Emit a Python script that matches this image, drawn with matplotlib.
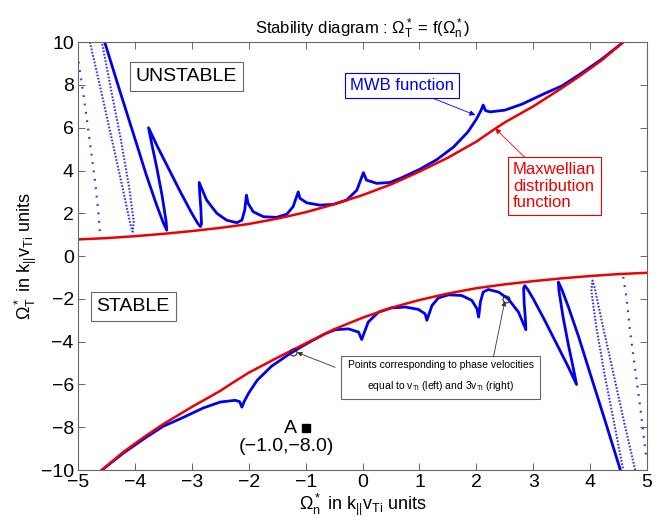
import matplotlib
matplotlib.use("Agg")
import matplotlib.pyplot as plt

# ---------------- data ----------------
# Maxwellian marginal-stability curve, upper (unstable side) branch
max_up_x = [-5.0, -4.5, -4.0, -3.5, -3.0, -2.5, -2.0, -1.5, -1.0, -0.5, 0.0, 0.5, 1.0, 1.5, 2.0, 2.3, 2.5, 3.0, 3.5, 3.82, 4.2, 4.58]
max_up_y = [0.78, 0.84, 0.93, 1.04, 1.17, 1.32, 1.50, 1.75, 2.05, 2.42, 2.85, 3.35, 3.95, 4.60, 5.35, 5.90, 6.25, 7.00, 7.85, 8.42, 9.15, 10.0]
# Maxwellian, lower (stable side) branch
max_lo_x = [-4.58, -4.2, -3.82, -3.5, -3.0, -2.5, -2.3, -2.0, -1.5, -1.0, -0.5, 0.0, 0.5, 1.0, 1.5, 2.0, 2.5, 3.0, 3.5, 4.0, 4.5, 5.0]
max_lo_y = [-10.0, -9.15, -8.42, -7.85, -7.05, -6.3, -5.95, -5.45, -4.75, -4.08, -3.42, -2.88, -2.42, -2.05, -1.75, -1.50, -1.32, -1.17, -1.04, -0.93, -0.84, -0.78]

# MWB distribution curve, upper branch (solid)
mwb_up_x = [-4.53, -4.25, -4.0, -3.8, -3.62, -3.5, -3.44,
            -3.45, -3.52, -3.62, -3.7, -3.76,
            -3.6, -3.4, -3.2, -3.0, -2.9, -2.85,
            -2.83, -2.84, -2.86, -2.87,
            -2.74, -2.56, -2.39, -2.21, -2.12, -2.07, -2.04,
            -2.01, -1.92, -1.74, -1.51, -1.33, -1.22, -1.13,
            -1.10, -0.98, -0.75, -0.51, -0.28, -0.10, 0.015,
            0.07, 0.25, 0.48, 0.66, 1.0, 1.3, 1.6, 1.85, 2.0, 2.08, 2.12,
            2.16, 2.24, 2.5, 2.8, 3.2, 3.5, 3.82, 4.2, 4.58]
mwb_up_y = [10.0, 7.6, 5.5, 3.8, 2.4, 1.55, 1.21,
            1.6, 2.8, 4.2, 5.2, 6.0,
            5.1, 4.05, 3.0, 2.0, 1.55, 1.38,
            1.5, 2.2, 2.9, 3.44,
            2.62, 2.0, 1.68, 1.56, 1.68, 2.15, 2.85,
            2.46, 2.07, 1.84, 1.81, 1.96, 2.31, 3.0,
            2.70, 2.49, 2.38, 2.42, 2.62, 3.08, 3.9,
            3.55, 3.40, 3.44, 3.63, 4.05, 4.5, 5.1, 5.8, 6.4, 6.8, 7.06,
            6.8, 6.74, 6.82, 7.1, 7.6, 7.95, 8.5, 9.2, 10.0]
# MWB, lower branch (solid)
mwb_lo_x = [-4.58, -4.2, -3.82, -3.5, -3.2, -2.8, -2.5, -2.24, -2.16,
            -2.12, -2.08, -2.0, -1.85, -1.6, -1.3, -1.0, -0.66, -0.48, -0.25, -0.07,
            -0.015, 0.10, 0.28, 0.51, 0.75, 0.98, 1.10,
            1.13, 1.22, 1.33, 1.51, 1.74, 1.92, 2.01,
            2.04, 2.07, 2.12, 2.21, 2.39, 2.56, 2.74,
            2.87, 2.86, 2.84, 2.83,
            2.85, 2.9, 3.0, 3.2, 3.4, 3.6,
            3.76, 3.7, 3.62, 3.52, 3.45,
            3.44, 3.5, 3.62, 3.8, 4.0, 4.25, 4.53]
mwb_lo_y = [-10.0, -9.2, -8.5, -7.95, -7.6, -7.1, -6.82, -6.74, -6.8,
            -7.06, -6.8, -6.4, -5.8, -5.15, -4.6, -4.12, -3.63, -3.44, -3.40, -3.55,
            -3.9, -3.08, -2.62, -2.42, -2.38, -2.49, -2.70,
            -3.0, -2.31, -1.96, -1.81, -1.84, -2.07, -2.46,
            -2.85, -2.15, -1.68, -1.56, -1.68, -2.0, -2.62,
            -3.44, -2.9, -2.2, -1.5,
            -1.38, -1.55, -2.0, -3.0, -4.05, -5.1,
            -6.0, -5.2, -4.2, -2.8, -1.6,
            -1.21, -1.55, -2.4, -3.8, -5.5, -7.6, -10.0]

# dotted branches of the MWB curve
dot_ul_x = [-4.79, -4.6, -4.4, -4.2, -4.08, -4.04, -4.02, -4.1, -4.25, -4.42, -4.58]
dot_ul_y = [10.0, 7.8, 5.4, 3.0, 1.5, 1.14, 1.6, 3.2, 5.5, 7.8, 10.0]
dot_lr_x = [4.79, 4.6, 4.4, 4.2, 4.08, 4.04, 4.02, 4.1, 4.25, 4.42, 4.58]
dot_lr_y = [-10.0, -7.8, -5.4, -3.0, -1.5, -1.14, -1.6, -3.2, -5.5, -7.8, -10.0]
spr_ul_x = [-4.99, -4.9, -4.8, -4.7, -4.64, -4.61]
spr_ul_y = [9.08, 7.5, 5.5, 3.5, 2.0, 0.98]
spr_lr_x = [4.58, 4.64, 4.7, 4.8, 4.9, 4.99]
spr_lr_y = [-0.97, -2.0, -3.5, -5.5, -7.5, -9.53]

# marked points (phase velocity = vTi and 3vTi)
pts_x = [-1.23, 2.52]
pts_y = [-4.47, -2.0]
# point A
a_x = [-0.99]
a_y = [-8.02]

xticks = [-5, -4, -3, -2, -1, 0, 1, 2, 3, 4, 5]
yticks = [-10, -8, -6, -4, -2, 0, 2, 4, 6, 8, 10]

# ---------------- figure ----------------
plt.rcParams['font.family'] = ['Liberation Sans', 'DejaVu Sans']
plt.rcParams['mathtext.fontset'] = 'custom'
plt.rcParams['mathtext.rm'] = 'Liberation Sans'
plt.rcParams['mathtext.it'] = 'Liberation Sans'
plt.rcParams['mathtext.bf'] = 'Liberation Sans:bold'

fig = plt.figure(figsize=(6.72, 5.20), dpi=100)
ax = fig.add_axes([0.116, 0.096, 0.847, 0.823])

blue = '#0000ee'
red = '#ee0000'

ax.plot(dot_ul_x, dot_ul_y, color='#3333ee', lw=1.5, ls=(0, (0.8, 0.8)))
ax.plot(dot_lr_x, dot_lr_y, color='#3333ee', lw=1.5, ls=(0, (0.8, 0.8)))
ax.plot(spr_ul_x, spr_ul_y, color='#3333ee', lw=1.6, ls=(0, (0.8, 3.0)))
ax.plot(spr_lr_x, spr_lr_y, color='#3333ee', lw=1.6, ls=(0, (0.8, 3.0)))
ax.plot(mwb_up_x, mwb_up_y, color=blue, lw=2.0, solid_joinstyle='round')
ax.plot(mwb_lo_x, mwb_lo_y, color=blue, lw=2.0, solid_joinstyle='round')
ax.plot(max_up_x, max_up_y, color=red, lw=1.8)
ax.plot(max_lo_x, max_lo_y, color=red, lw=1.8)

ax.plot(pts_x, pts_y, 'o', mfc='none', mec='#222244', ms=5, mew=0.8)
ax.plot(a_x, a_y, 's', color='black', ms=6)

ax.set_xlim(-5, 5)
ax.set_ylim(-10, 10)
ax.set_xticks(xticks)
ax.set_yticks(yticks)
ax.set_xticklabels(['\u2212' + str(-t) if t < 0 else str(t) for t in xticks], fontsize=14)
ax.set_yticklabels(['\u2212' + str(-t) if t < 0 else str(t) for t in yticks], fontsize=14)
ax.tick_params(direction='in', top=True, right=True, length=5, width=0.7, color='#666666', pad=3)
for s in ax.spines.values():
    s.set_color('#666666')
    s.set_linewidth(0.8)

ax.set_title(r'Stability diagram : $\Omega_T^*$ = f($\Omega_n^*$)', fontsize=12, pad=6)
ax.set_xlabel(r'$\Omega_n^*$ in k$_{||}$v$_{Ti}$ units', fontsize=13, labelpad=0)
ax.set_ylabel(r'$\Omega_T^*$ in k$_{||}$v$_{Ti}$ units', fontsize=13, labelpad=1)

ax.text(-3.1, 8.4, 'UNSTABLE', fontsize=14, ha='center', va='center',
        bbox=dict(boxstyle='square,pad=0.3', fc='white', ec='#666666', lw=0.8))
ax.text(-4.03, -2.35, 'STABLE', fontsize=14, ha='center', va='center',
        bbox=dict(boxstyle='square,pad=0.3', fc='white', ec='#666666', lw=0.8))

ax.annotate('MWB function', xy=(1.98, 6.59), xytext=(0.69, 7.95), fontsize=12, color=blue,
            ha='center', va='center',
            bbox=dict(boxstyle='square,pad=0.3', fc='white', ec=blue, lw=0.8),
            arrowprops=dict(arrowstyle='-|>', color=blue, lw=0.6, mutation_scale=8, shrinkA=0, shrinkB=0))
ax.annotate('Maxwellian\ndistribution\nfunction', xy=(2.33, 5.97), xytext=(2.64, 3.27), fontsize=12,
            color=red, ha='left', va='center', linespacing=1.1,
            bbox=dict(boxstyle='square,pad=0.3', fc='white', ec=red, lw=0.8),
            arrowprops=dict(arrowstyle='-|>', color=red, lw=0.6, mutation_scale=8, shrinkA=0, shrinkB=0))

ax.text(1.37, -5.62, 'Points corresponding to phase velocities\n\nequal to v$_{Ti}$ (left) and 3v$_{Ti}$ (right)',
        fontsize=7.5, ha='center', va='center', linespacing=0.95,
        bbox=dict(boxstyle='square,pad=0.6', fc='white', ec='#666666', lw=0.8))
ax.annotate('', xy=(-1.15, -4.5), xytext=(-0.48, -5.2),
            arrowprops=dict(arrowstyle='-|>', color='#333333', lw=0.6, mutation_scale=7, shrinkA=0, shrinkB=0))
ax.annotate('', xy=(2.5, -2.1), xytext=(2.3, -4.71),
            arrowprops=dict(arrowstyle='-|>', color='#333333', lw=0.6, mutation_scale=7, shrinkA=0, shrinkB=0))

ax.text(-1.27, -8.05, 'A', fontsize=14, ha='center', va='center')
ax.text(-1.33, -8.9, '(\u22121.0,\u22128.0)', fontsize=14, ha='center', va='center')

fig.savefig('out.png', dpi=100)
